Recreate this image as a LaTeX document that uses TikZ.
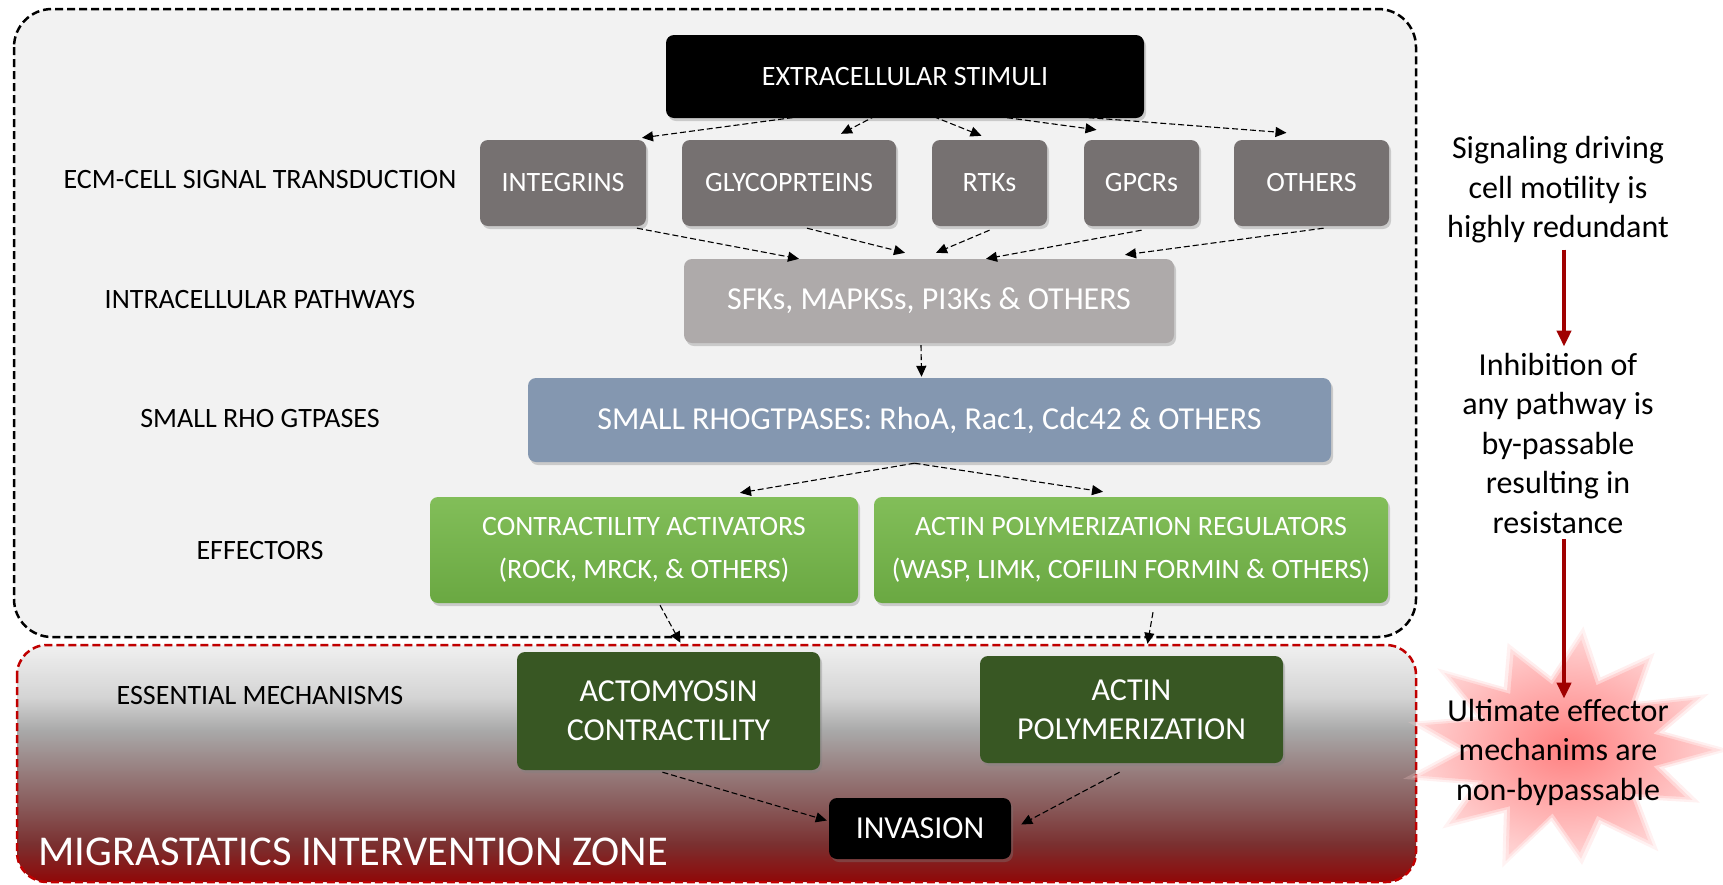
\documentclass[tikz,border=0pt]{standalone}
\usepackage{fontspec}
\setmainfont{Carlito}
\usetikzlibrary{arrows.meta,shadows}

\definecolor{panelgray}{HTML}{F2F2F2}
\definecolor{receptorgray}{HTML}{767171}
\definecolor{pathgray}{HTML}{AEAAAA}
\definecolor{rhoblue}{HTML}{8497B0}
\definecolor{effgreentop}{HTML}{82BE59}
\definecolor{effgreenbot}{HTML}{6AA842}
\definecolor{mechgreen}{HTML}{385723}
\definecolor{zonered}{HTML}{C00000}
\definecolor{arrowred}{HTML}{A00000}
\definecolor{burstin}{HTML}{FF8080}
\definecolor{burstout}{HTML}{FFD0D0}
\definecolor{zoneA}{HTML}{900808}
\definecolor{zoneB}{HTML}{7A3030}
\definecolor{zoneC}{HTML}{8A5F5F}
\definecolor{zoneD}{HTML}{9A8585}
\definecolor{zoneE}{HTML}{A9A9A9}
\definecolor{zoneF}{HTML}{D4D4D4}
\definecolor{zoneG}{HTML}{F0F0F0}
\pgfdeclareverticalshading{zoneshade}{100bp}{color(0bp)=(zoneA); color(25bp)=(zoneA);
  color(33bp)=(zoneB); color(42bp)=(zoneC); color(50bp)=(zoneD); color(57bp)=(zoneE);
  color(64bp)=(zoneF); color(75bp)=(zoneG); color(100bp)=(zoneG)}

\begin{document}
\begin{tikzpicture}
[x=1pt,y=-1pt,
  boxDecorate/.style={rounded corners=8pt,text=white,align=center,inner sep=0pt,
    drop shadow={opacity=.35,shadow xshift=2pt,shadow yshift=-3pt}},
  recDecorate/.style={boxDecorate,fill=receptorgray,minimum height=86pt,
    font=\fontsize{28}{34}\selectfont},
  mechDecorate/.style={boxDecorate,fill=mechgreen,font=\fontsize{32}{39}\selectfont},
  effDecorate/.style={boxDecorate,top color=effgreentop,bottom color=effgreenbot,
    minimum height=106pt,font=\fontsize{28}{43}\selectfont},
  levelDecorate/.style={font=\fontsize{28}{34}\selectfont},
  noteDecorate/.style={align=center,inner sep=2pt,font=\fontsize{32}{39.5}\selectfont},
  flowDecorate/.style={dash pattern=on 6pt off 3pt,line width=1.1pt,
    -{Triangle[length=11pt,width=10pt]}},
  redDecorate/.style={line width=4pt,draw=arrowred,-{Triangle[length=16pt,width=14pt]}}]
\useasboundingbox (0,0) rectangle (1723,884);
%% panels
\filldraw[fill=panelgray,draw=black,line width=2.5pt,dash pattern=on 8pt off 4pt,
  rounded corners=38pt] (14,9) rectangle (1416,637);
\path[shading=zoneshade,rounded corners=30pt] (17,645) rectangle (1416,882);
\draw[zonered,line width=2.5pt,dash pattern=on 8pt off 4pt,rounded corners=30pt]
  (17,645) rectangle (1416,882);
%% burst
\coordinate (burstc) at (1563,750);
\foreach \s/\op in {1.12/0.25, 1.06/0.45, 1/1}
{
  \shade[inner color=burstin,outer color=burstout,opacity=\op]
    ([shift={(0:{150*\s} and {110*\s})}]burstc)
    \foreach \i/\r in {1/62,2/92,3/60,4/100,5/64,6/94,7/58,8/102,9/62,10/96,11/60,12/98,
      13/63,14/95,15/58,16/100,17/62,18/93,19/60,20/101,21/63,22/96,23/59,24/98,25/62}
    { -- ([shift={({\i*360/26}:{1.5*\r*\s} and {1.1*\r*\s})}]burstc) } -- cycle;
}
%% level labels
\foreach \labname/\y/\txt in {
  lab1/180/ECM-CELL SIGNAL TRANSDUCTION, lab2/300/INTRACELLULAR PATHWAYS,
  lab3/419/SMALL RHO GTPASES, lab4/550/EFFECTORS, lab5/695/ESSENTIAL MECHANISMS}
{
  \node[levelDecorate] (\labname) at (260,\y) {\txt};
}
\node[text=white,anchor=west,font=\fontsize{42.5}{50}\selectfont] (zone) at (35,852)
  {MIGRASTATICS INTERVENTION ZONE};
%% boxes
\node[boxDecorate,fill=black,minimum width=478pt,minimum height=83pt,
  font=\fontsize{28}{34}\selectfont] (stim) at (905,76.5) {EXTRACELLULAR STIMULI};
\foreach \nodename/\x/\w/\txt in {
  integ/563/166/INTEGRINS, glyco/789/214/GLYCOPRTEINS, rtk/989.5/115/RTKs,
  gpcr/1141.5/115/GPCRs, others/1311.5/155/OTHERS}
{
  \node[recDecorate,minimum width=\w pt] (\nodename) at (\x,183) {\txt};
}
\node[boxDecorate,fill=pathgray,minimum width=490pt,minimum height=84pt,
  font=\fontsize{32}{38}\selectfont] (sfk) at (929,301) {SFKs, MAPKSs, PI3Ks \& OTHERS};
\node[boxDecorate,fill=rhoblue,minimum width=803pt,minimum height=84pt,
  font=\fontsize{32}{38}\selectfont] (rho) at (929.5,420)
  {SMALL RHOGTPASES: RhoA, Rac1, Cdc42 \& OTHERS};
\node[effDecorate,minimum width=428pt] (contr) at (644,550)
  {CONTRACTILITY ACTIVATORS\\(ROCK, MRCK, \& OTHERS)};
\node[effDecorate,minimum width=514pt] (actreg) at (1131,550)
  {ACTIN POLYMERIZATION REGULATORS\\(WASP, LIMK, COFILIN FORMIN \& OTHERS)};
\node[mechDecorate,minimum width=303pt,minimum height=118pt] (acto) at (668.5,711)
  {ACTOMYOSIN\\CONTRACTILITY};
\node[mechDecorate,minimum width=303pt,minimum height=107pt] (actpol) at (1131.5,709.5)
  {ACTIN\\POLYMERIZATION};
\node[boxDecorate,fill=black,minimum width=182pt,minimum height=61pt,
  font=\fontsize{32}{38}\selectfont] (inv) at (920,828.5) {INVASION};
%% dashed connectors
\foreach \endnode/\dx/\dy in {integ/79/-2, glyco/52/-6, rtk/-8/-4, gpcr/-45/-10, others/-25/-7}
{
  \draw[flowDecorate] ([shift={(-5,-15)}]stim.south) -- ([shift={(\dx,\dy)}]\endnode.north);
}
\foreach \startnode/\sx/\sy/\tx/\ty in {
  integ/74/2/-130/0, glyco/18/2/-24/-6, rtk/0/4/7/-6, gpcr/0/4/57/0, others/12/2/196/-4}
{
  \draw[flowDecorate] ([shift={(\sx,\sy)}]\startnode.south) -- ([shift={(\tx,\ty)}]sfk.north);
}
\draw[flowDecorate] ([shift={(-8,2)}]sfk.south) -- ([shift={(-8,-1)}]rho.north);
\draw[flowDecorate] ([shift={(-15,1)}]rho.south) -- ([shift={(96,-4)}]contr.north);
\draw[flowDecorate] ([shift={(-15,1)}]rho.south) -- ([shift={(-28,-5)}]actreg.north);
\draw[flowDecorate] ([shift={(16,2)}]contr.south) -- ([shift={(12,-9)}]acto.north);
\draw[flowDecorate] ([shift={(22,9)}]actreg.south) -- ([shift={(16,-12)}]actpol.north);
\draw[flowDecorate] ([shift={(-6,2)}]acto.south) -- ([shift={(-2,-8)}]inv.west);
\draw[flowDecorate] ([shift={(-12,9)}]actpol.south) -- ([shift={(10,-4)}]inv.east);
%% side notes
\node[noteDecorate] (sig) at (1558,190) {Signaling driving\\cell motility is\\highly redundant};
\node[noteDecorate] (inh) at (1558,443)
  {Inhibition of\\any pathway is\\by-passable\\resulting in\\resistance};
\node[noteDecorate] (ult) at (1558,752) {Ultimate effector\\mechanims are\\non-bypassable};
\draw[redDecorate] ([shift={(6,4)}]sig.south) -- ([shift={(6,-4)}]inh.north);
\draw[redDecorate] ([shift={(6,4)}]inh.south) -- ([shift={(6,2)}]ult.north);
\end{tikzpicture}
\end{document}
